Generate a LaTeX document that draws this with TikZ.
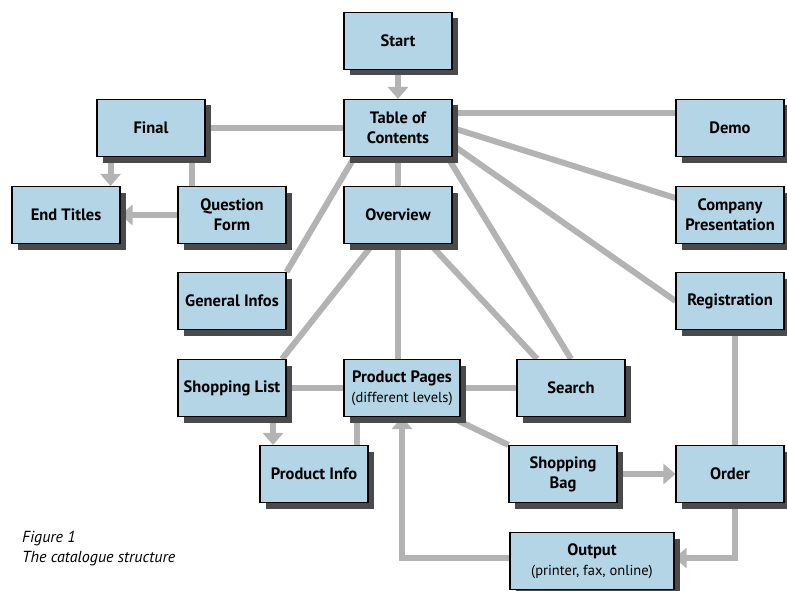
\documentclass[tikz,border=0pt]{standalone}
\usepackage{fontspec}
\setmainfont{PT Sans}
\usepackage{tikz}
\usetikzlibrary{arrows.meta, positioning, shadows, backgrounds, calc}
\definecolor{boxblue}{HTML}{B4D5E5}
\definecolor{shadegray}{HTML}{4A4A4A}
\definecolor{linkgray}{HTML}{B3B3B3}
\newcommand{\sublabel}{\mdseries\fontsize{14.5}{19}\selectfont}
\tikzset{
  page/.style={rectangle, draw=black, line width=1.1pt, fill=boxblue,
    font=\bfseries\fontsize{16.5}{20}\selectfont, align=center,
    minimum width=108pt, minimum height=57pt, inner sep=2pt,
    drop shadow={shadow xshift=6pt, shadow yshift=-6pt, fill=shadegray, opacity=1}},
  link/.style={draw=linkgray, line width=6pt},
  flow/.style={link, -{Triangle[width=20pt, length=12pt]}},
  figcap/.style={font=\itshape\fontsize{16}{20}\selectfont, align=left, anchor=north west, inner sep=0pt},
}
\begin{document}
\begin{tikzpicture}[x=1pt, y=-1pt]
  \useasboundingbox (0,0) rectangle (787,591);
  % pages
  \node[page] (start)    at (398,41)  {Start};
  \node[page] (toc)      at (398,128) {Table of\\Contents};
  \node[page] (final)    at (151,128) {Final};
  \node[page] (demo)     at (730,128) {Demo};
  \node[page] (endt)     at (66,215)  {End Titles};
  \node[page] (qform)    at (232,215) {Question\\Form};
  \node[page] (overview) at (398,215) {Overview};
  \node[page] (company)  at (730,215) {Company\\Presentation};
  \node[page] (general)  at (232,301) {General Infos};
  \node[page] (regist)   at (730,301) {Registration};
  \node[page] (shoplist) at (232,388) {Shopping List};
  \node[page, minimum width=116pt] (prodpages) at (402,388) {Product Pages\\{\sublabel (different levels)}};
  \node[page] (search)   at (571,388) {Search};
  \node[page] (prodinfo) at (314,474) {Product Info};
  \node[page] (bag)      at (563,474) {Shopping\\Bag};
  \node[page] (order)    at (730,474) {Order};
  \node[page, minimum width=164pt] (output) at (592,561) {Output\\{\sublabel (printer, fax, online)}};

  \node[figcap] (caption) at (22,531) {Figure 1\\The catalogue structure};

  % connectors
  \begin{scope}[on background layer]
    \draw[flow] (start.south) -- (toc.north);
    \draw[link] (final.east) -- (toc.west);
    \draw[flow] ([xshift=-10]endt.north east |- final.south) -- ([xshift=-10]endt.north east);
    \draw[link] ([xshift=-40]qform.north) -- ([xshift=-40]qform.north |- final.south);
    \draw[flow] (qform.west) -- (endt.east);
    \draw[link] ([yshift=15]toc.east) -- ([yshift=15]toc.east -| demo.west);
    \draw[link] (toc.east) -- ([yshift=17]company.west);
    \draw[link] ([yshift=-17]toc.east) -- (regist.west);
    \draw[link] ([xshift=-5]toc.south east) -- (search.north);
    \draw[link] (toc.south) -- (overview.north);
    \draw[link] ([xshift=11]toc.south west) -- (general.north east);
    \draw[link] ([xshift=-25]overview.south) -- ([xshift=50]shoplist.north);
    \draw[link] (overview.south) -- (overview.south |- prodpages.north);
    \draw[link] ([xshift=32]overview.south) -- ([xshift=-34]search.north);
    \draw[link] (shoplist.east) -- (prodpages.west);
    \draw[link] (prodpages.east) -- (search.west);
    \draw[flow] ([xshift=41]shoplist.south) -- ([xshift=41]shoplist.south |- prodinfo.north);
    \draw[link] ([xshift=43]prodinfo.north) -- ([xshift=43]prodinfo.north |- prodpages.south);
    \draw[link] ([xshift=-10]prodpages.south east) -- (bag.north west);
    \draw[flow] (bag.east) -- (order.west);
    \draw[link] ([xshift=5]regist.south) -- ([xshift=5]order.north);
    \draw[flow] ([xshift=5]order.south) |- ([yshift=3]output.east);
    \draw[flow] ([yshift=3]output.west) -| (prodpages.south);
  \end{scope}
\end{tikzpicture}
\end{document}
